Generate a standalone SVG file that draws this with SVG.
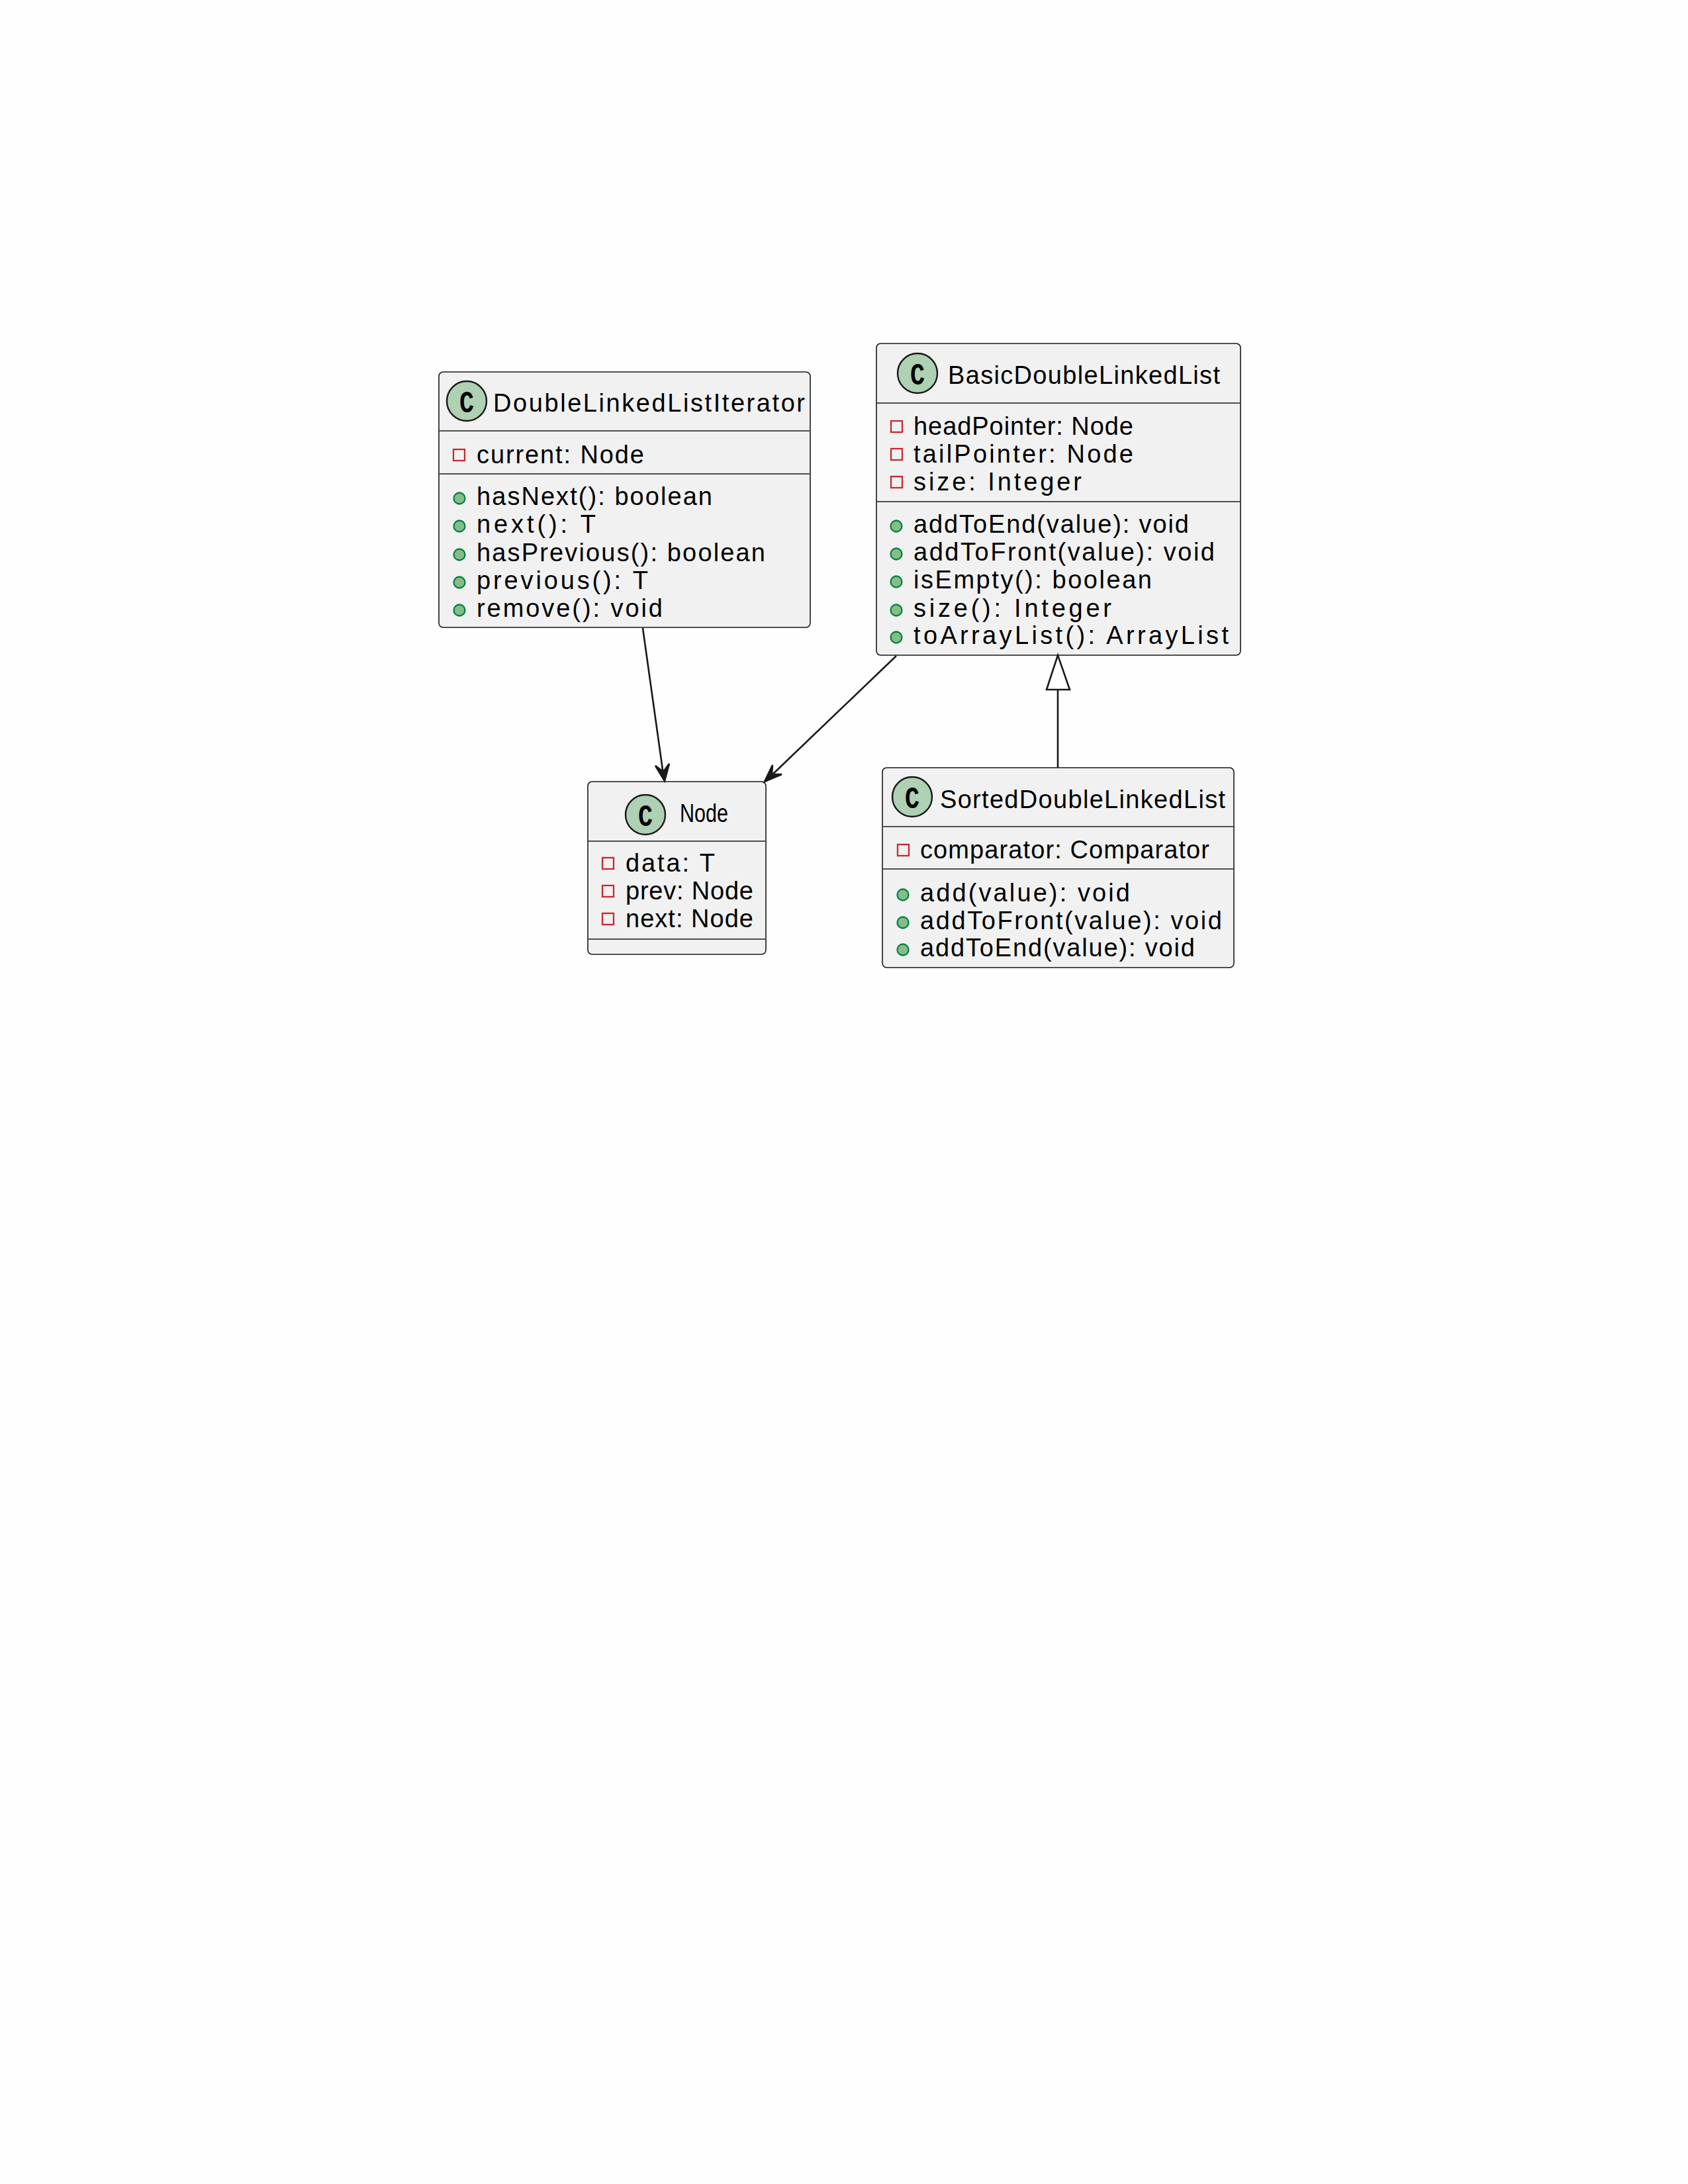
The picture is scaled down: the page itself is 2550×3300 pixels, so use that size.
<svg xmlns="http://www.w3.org/2000/svg" width="2550" height="3300" viewBox="0 0 2550 3300">
<style>
.box{fill:#F1F1F1;stroke:#181818;stroke-width:1.6}
.sep{stroke:#181818;stroke-width:1.4}
.ci{fill:#ADD1B2;stroke:#181818;stroke-width:2.4}
.cl{font-family:"Liberation Mono","DejaVu Sans Mono",monospace;font-weight:bold;font-size:46px;fill:#000;text-anchor:middle}
.t{font-family:"Liberation Sans",Arial,sans-serif;font-size:38px;fill:#000}
.pv{fill:none;stroke:#C82930;stroke-width:2.3}
.pb{fill:#84BE84;stroke:#038048;stroke-width:2.3}
.ln{stroke:#181818;stroke-width:2.6;fill:none}
.ah{fill:#181818;stroke:#181818;stroke-width:2.6;stroke-linejoin:miter}
.inh{fill:#FFFFFF;stroke:#181818;stroke-width:2.6}
</style>
<rect width="2550" height="3300" fill="#FEFEFE"/>

<g id="DoubleLinkedListIterator">
<rect class="box" x="663" y="562" width="561" height="386" rx="6.5"/>
<circle class="ci" cx="705" cy="606" r="30"/>
<text class="cl" x="705" y="623" textLength="22" lengthAdjust="spacingAndGlyphs">C</text>
<text class="t" x="745" y="622" textLength="471" lengthAdjust="spacing">DoubleLinkedListIterator</text>
<line class="sep" x1="664" y1="651" x2="1223" y2="651"/>
<rect class="pv" x="685" y="679" width="17" height="17"/>
<text class="t" x="720" y="700" textLength="253" lengthAdjust="spacing">current: Node</text>
<line class="sep" x1="664" y1="716" x2="1223" y2="716"/>
<circle class="pb" cx="694" cy="753" r="8.5"/>
<text class="t" x="720" y="763" textLength="356" lengthAdjust="spacing">hasNext(): boolean</text>
<circle class="pb" cx="694" cy="795" r="8.5"/>
<text class="t" x="720" y="805" textLength="180" lengthAdjust="spacing">next(): T</text>
<circle class="pb" cx="694" cy="838" r="8.5"/>
<text class="t" x="720" y="848" textLength="436" lengthAdjust="spacing">hasPrevious(): boolean</text>
<circle class="pb" cx="694" cy="880" r="8.5"/>
<text class="t" x="720" y="890" textLength="259" lengthAdjust="spacing">previous(): T</text>
<circle class="pb" cx="694" cy="922" r="8.5"/>
<text class="t" x="720" y="932" textLength="281" lengthAdjust="spacing">remove(): void</text>
</g>

<g id="BasicDoubleLinkedList">
<rect class="box" x="1324" y="519" width="550" height="471" rx="6.5"/>
<circle class="ci" cx="1386" cy="564" r="30"/>
<text class="cl" x="1386" y="581" textLength="22" lengthAdjust="spacingAndGlyphs">C</text>
<text class="t" x="1432" y="580" textLength="411" lengthAdjust="spacing">BasicDoubleLinkedList</text>
<line class="sep" x1="1325" y1="609" x2="1873" y2="609"/>
<rect class="pv" x="1346" y="636" width="17" height="17"/>
<text class="t" x="1380" y="657" textLength="332" lengthAdjust="spacing">headPointer: Node</text>
<rect class="pv" x="1346" y="678" width="17" height="17"/>
<text class="t" x="1380" y="699" textLength="332" lengthAdjust="spacing">tailPointer: Node</text>
<rect class="pv" x="1346" y="720" width="17" height="17"/>
<text class="t" x="1380" y="741" textLength="254" lengthAdjust="spacing">size: Integer</text>
<line class="sep" x1="1325" y1="758" x2="1873" y2="758"/>
<circle class="pb" cx="1354" cy="795" r="8.5"/>
<text class="t" x="1380" y="805" textLength="416" lengthAdjust="spacing">addToEnd(value): void</text>
<circle class="pb" cx="1354" cy="837" r="8.5"/>
<text class="t" x="1380" y="847" textLength="455" lengthAdjust="spacing">addToFront(value): void</text>
<circle class="pb" cx="1354" cy="879" r="8.5"/>
<text class="t" x="1380" y="889" textLength="360" lengthAdjust="spacing">isEmpty(): boolean</text>
<circle class="pb" cx="1354" cy="922" r="8.5"/>
<text class="t" x="1380" y="932" textLength="299" lengthAdjust="spacing">size(): Integer</text>
<circle class="pb" cx="1354" cy="963" r="8.5"/>
<text class="t" x="1380" y="973" textLength="476" lengthAdjust="spacing">toArrayList(): ArrayList</text>
</g>

<g id="Node">
<rect class="box" x="888" y="1181" width="269" height="261" rx="6.5"/>
<circle class="ci" cx="975" cy="1231" r="30"/>
<text class="cl" x="975" y="1248" textLength="22" lengthAdjust="spacingAndGlyphs">C</text>
<text class="t" x="1027" y="1242" textLength="73" lengthAdjust="spacingAndGlyphs">Node</text>
<line class="sep" x1="889" y1="1271" x2="1156" y2="1271"/>
<rect class="pv" x="910" y="1296" width="17" height="17"/>
<text class="t" x="945" y="1317" textLength="135" lengthAdjust="spacing">data: T</text>
<rect class="pv" x="910" y="1338" width="17" height="17"/>
<text class="t" x="945" y="1359" textLength="193" lengthAdjust="spacing">prev: Node</text>
<rect class="pv" x="910" y="1380" width="17" height="17"/>
<text class="t" x="945" y="1401" textLength="193" lengthAdjust="spacing">next: Node</text>
<line class="sep" x1="889" y1="1419" x2="1156" y2="1419"/>
</g>

<g id="SortedDoubleLinkedList">
<rect class="box" x="1333" y="1160" width="531" height="302" rx="6.5"/>
<circle class="ci" cx="1378" cy="1204" r="30"/>
<text class="cl" x="1378" y="1221" textLength="22" lengthAdjust="spacingAndGlyphs">C</text>
<text class="t" x="1420" y="1221" textLength="431" lengthAdjust="spacing">SortedDoubleLinkedList</text>
<line class="sep" x1="1334" y1="1249" x2="1863" y2="1249"/>
<rect class="pv" x="1356" y="1276" width="17" height="17"/>
<text class="t" x="1390" y="1297" textLength="437" lengthAdjust="spacing">comparator: Comparator</text>
<line class="sep" x1="1334" y1="1313" x2="1863" y2="1313"/>
<circle class="pb" cx="1364" cy="1352" r="8.5"/>
<text class="t" x="1390" y="1362" textLength="317" lengthAdjust="spacing">add(value): void</text>
<circle class="pb" cx="1364" cy="1394" r="8.5"/>
<text class="t" x="1390" y="1404" textLength="456" lengthAdjust="spacing">addToFront(value): void</text>
<circle class="pb" cx="1364" cy="1435" r="8.5"/>
<text class="t" x="1390" y="1445" textLength="415" lengthAdjust="spacing">addToEnd(value): void</text>
</g>

<g id="connectors">
<line class="ln" x1="971" y1="949" x2="1002" y2="1170"/>
<polygon class="ah" points="1004,1180 990,1157 1002,1166 1011,1154"/>
<line class="ln" x1="1354" y1="991" x2="1163" y2="1174"/>
<polygon class="ah" points="1155,1181 1167,1156 1166,1170 1181,1170"/>
<line class="ln" x1="1598" y1="1042" x2="1598" y2="1160"/>
<polygon class="inh" points="1598,990 1581,1042 1616,1042"/>
</g>
</svg>
